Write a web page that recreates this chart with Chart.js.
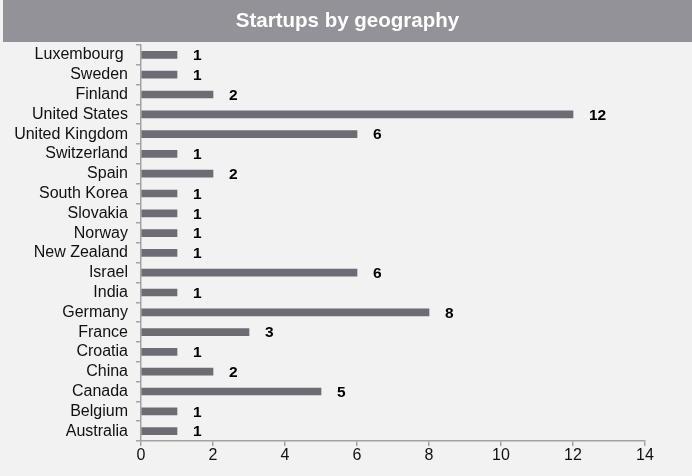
<!DOCTYPE html>
<html>
<head>
<meta charset="utf-8">
<script src="https://cdn.jsdelivr.net/npm/chart.js@4.4.1/dist/chart.umd.min.js"></script>
<style>
  body { margin: 0; background: #f2f2f2; }
  #wrap { width: 692px; height: 476px; }
</style>
</head>
<body>
<div id="wrap"><canvas id="chart" width="692" height="476"></canvas></div>
<script>
const chartTitle = 'Startups by geography';

// countries listed top to bottom
const countries = [
  'Luxembourg ', 'Sweden', 'Finland', 'United States', 'United Kingdom',
  'Switzerland', 'Spain', 'South Korea', 'Slovakia', 'Norway',
  'New Zealand', 'Israel', 'India', 'Germany', 'France',
  'Croatia', 'China', 'Canada', 'Belgium', 'Australia'
];
const startups = [1, 1, 2, 12, 6, 1, 2, 1, 1, 1, 1, 6, 1, 8, 3, 1, 2, 5, 1, 1];
const xTicks = [0, 2, 4, 6, 8, 10, 12, 14];

const FONT = '"Liberation Sans", Arial, sans-serif';
const axisGray = '#a3a3a3';

// grey banner with the heading across the top
const titleBar = {
  id: 'titleBar',
  beforeDraw(chart) {
    const ctx = chart.ctx;
    ctx.save();
    ctx.fillStyle = '#f2f2f2';
    ctx.fillRect(0, 0, chart.width, chart.height);
    ctx.fillStyle = '#939298';
    ctx.fillRect(3, 0, chart.width - 3, 42);
    ctx.fillStyle = '#ffffff';
    ctx.font = 'bold 20.5px ' + FONT;
    ctx.textAlign = 'center';
    ctx.textBaseline = 'middle';
    ctx.fillText(chartTitle, (3 + chart.width) / 2, 21);
    ctx.restore();
  }
};

// bold count to the right of each bar
const valueLabels = {
  id: 'valueLabels',
  afterDatasetsDraw(chart) {
    const ctx = chart.ctx;
    const meta = chart.getDatasetMeta(0);
    ctx.save();
    ctx.fillStyle = '#000';
    ctx.font = 'bold 15.5px ' + FONT;
    ctx.textAlign = 'left';
    ctx.textBaseline = 'middle';
    meta.data.forEach((bar, i) => {
      ctx.fillText(String(startups[i]), bar.x + 16, bar.y + 1);
    });
    ctx.restore();
  }
};

new Chart(document.getElementById('chart'), {
  type: 'bar',
  data: {
    labels: countries,
    datasets: [{
      data: startups,
      backgroundColor: '#6d6c74',
      barThickness: 7
    }]
  },
  options: {
    indexAxis: 'y',
    responsive: false,
    animation: false,
    layout: { padding: { top: 45, right: 47, left: 0, bottom: 0 } },
    plugins: {
      legend: { display: false },
      tooltip: { enabled: false }
    },
    scales: {
      x: {
        min: 0,
        max: 14,
        afterBuildTicks: (scale) => { scale.ticks = xTicks.map(v => ({ value: v })); },
        afterFit: (scale) => { scale.height = 35; },
        grid: { drawOnChartArea: false, tickLength: 5, color: axisGray, lineWidth: 1.5 },
        border: { color: axisGray, width: 1.5 },
        ticks: { color: '#111', padding: 0, font: { family: FONT, size: 16 } }
      },
      y: {
        afterFit: (scale) => { scale.width = 141; },
        grid: { drawOnChartArea: false, offset: true, tickLength: 5, color: axisGray, lineWidth: 1.5 },
        border: { color: axisGray, width: 1.5 },
        ticks: { color: '#111', padding: 8, autoSkip: false, font: { family: FONT, size: 16 } }
      }
    }
  },
  plugins: [titleBar, valueLabels]
});
</script>
</body>
</html>
